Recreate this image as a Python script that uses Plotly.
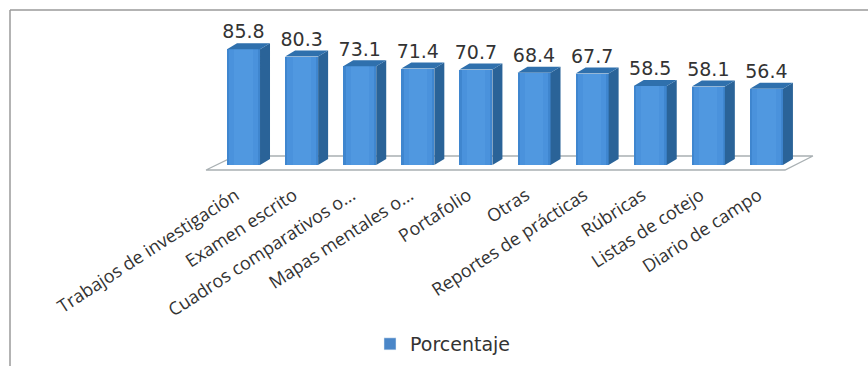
import plotly.graph_objects as go

categories = ["Trabajos de investigación", "Examen escrito", "Cuadros comparativos o...",
              "Mapas mentales o...", "Portafolio", "Otras", "Reportes de prácticas",
              "Rúbricas", "Listas de cotejo", "Diario de campo"]
values = [85.8, 80.3, 73.1, 71.4, 70.7, 68.4, 67.7, 58.5, 58.1, 56.4]
series_name = "Porcentaje"

W, H = 868, 366
L, R, T, BOT = 200, 830, 20, 175   # plot area edges in page pixels
X_MIN, X_MAX = -0.749, 10.094
Y_MIN, Y_MAX = -7.41, 107.4
BAR_W = 0.568
DX, DY = 0.172, 4.44

def px(p):
    return (p - L) / (R - L)

def py(p):
    return (BOT - p) / (BOT - T)

xs = list(range(len(categories)))

fig = go.Figure()

# front face, built from overlaid bars for the soft horizontal shading
strips = [(BAR_W, "#3f86cf"), (BAR_W * 0.86, "#4a92dc"), (BAR_W * 0.55, "#5098e0")]
for w, c in strips:
    fig.add_trace(go.Bar(x=xs, y=values, width=w, marker=dict(color=c, line=dict(width=0)),
                         name=series_name, showlegend=False, hoverinfo="skip"))

# right side and top faces
side_x, side_y, top_x, top_y = [], [], [], []
for x, v in zip(xs, values):
    x0, x1 = x - BAR_W / 2, x + BAR_W / 2
    side_x += [x1, x1 + DX, x1 + DX, x1, x1, None]
    side_y += [0, DY, v + DY, v, 0, None]
    top_x += [x0, x1, x1 + DX, x0 + DX, x0, None]
    top_y += [v, v, v + DY, v + DY, v, None]
fig.add_trace(go.Scatter(x=side_x, y=side_y, mode="lines", fill="toself", fillcolor="#2a6398",
                         line=dict(width=0), showlegend=False, hoverinfo="skip"))
fig.add_trace(go.Scatter(x=top_x, y=top_y, mode="lines", fill="toself", fillcolor="#2f70ad",
                         line=dict(width=0), showlegend=False, hoverinfo="skip"))

# data labels
fig.add_trace(go.Scatter(x=xs, y=[v + DY for v in values], mode="text",
                         text=[f"{v:.1f}" for v in values], textposition="top center",
                         textfont=dict(family="DejaVu Sans", size=19, color="#333333"),
                         showlegend=False, hoverinfo="skip"))

# legend entry
fig.add_trace(go.Bar(x=[None], y=[None], name=series_name, marker=dict(color="#4a86c8")))

# floor
fx = [-0.645, 9.32, 9.80, -0.145]
fy = [-3.7, -3.7, 6.67, 6.67]
floor_path = "M " + " L ".join(f"{a},{b}" for a, b in zip(fx, fy)) + " Z"
shapes = [
    dict(type="path", path=floor_path, xref="x", yref="y", layer="below",
         line=dict(color="#a9b0b3", width=1.3), fillcolor="#ffffff"),
    dict(type="line", xref="paper", yref="paper", x0=px(10), x1=px(W), y0=py(10), y1=py(10),
         line=dict(color="#9a9a9a", width=1.5)),
    dict(type="line", xref="paper", yref="paper", x0=px(10), x1=px(10), y0=py(10), y1=py(H),
         line=dict(color="#9a9a9a", width=1.5)),
]

fig.update_layout(
    width=W, height=H, barmode="overlay", bargap=0,
    margin=dict(l=L, r=W - R, t=T, b=H - BOT, autoexpand=False),
    paper_bgcolor="white", plot_bgcolor="rgba(0,0,0,0)",
    showlegend=True,
    legend=dict(orientation="h", x=px(443), y=py(344), xanchor="center", yanchor="middle",
                font=dict(family="DejaVu Sans", size=19, color="#333333"),
                bgcolor="rgba(0,0,0,0)"),
    shapes=shapes,
    font=dict(family="Open Sans"),
    xaxis=dict(range=[X_MIN, X_MAX], tickmode="array", tickvals=xs, ticktext=categories,
               tickangle=-33, ticks="outside", ticklen=2, tickcolor="rgba(0,0,0,0)",
               ticklabelshift=-8,
               tickfont=dict(family="Open Sans", size=18, color="#333333"),
               showgrid=False, zeroline=False, showline=False, automargin=False),
    yaxis=dict(range=[Y_MIN, Y_MAX], visible=False, showgrid=False, zeroline=False),
)

fig.write_html("out.html", config=dict(displayModeBar=False),
               post_script="document.body.style.margin='0';document.documentElement.style.overflow='hidden';")
